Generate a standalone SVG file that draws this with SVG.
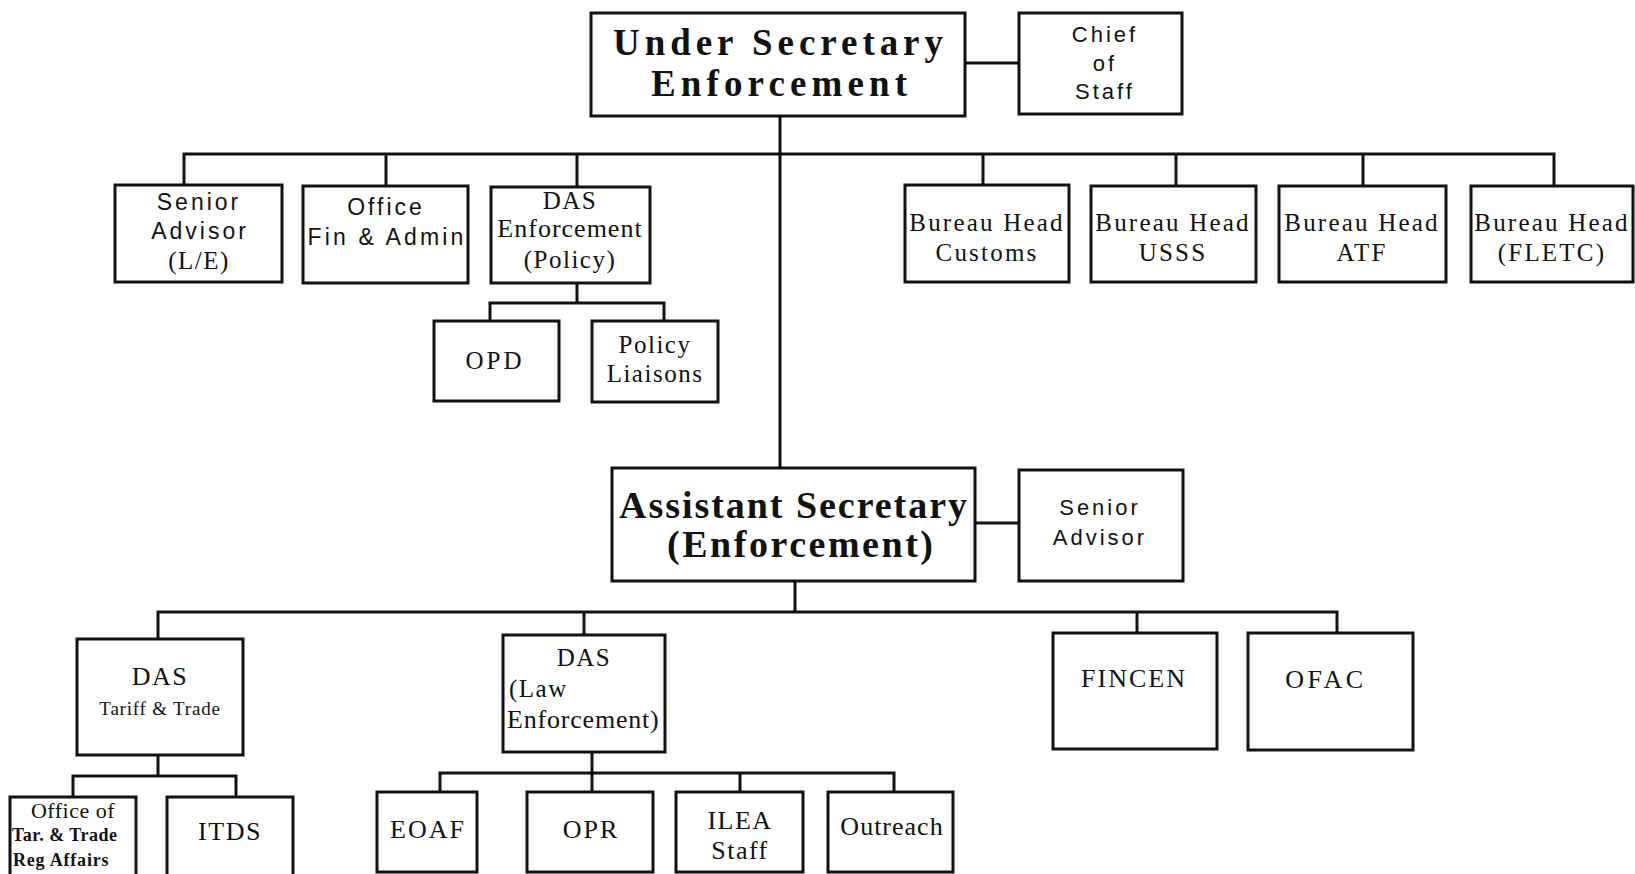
<svg xmlns="http://www.w3.org/2000/svg" width="1635" height="874" viewBox="0 0 1635 874">
<style>
.box{fill:#fff;stroke:#111;stroke-width:3}
.ln{fill:none;stroke:#111;stroke-width:3}
text{fill:#111;dominant-baseline:central;text-anchor:middle}
.sans{font-family:"Liberation Sans",Arial,sans-serif;font-size:22px;letter-spacing:3px}
.serif{font-family:"Liberation Serif","Times New Roman",serif;font-size:25px;letter-spacing:1.5px}
.big{font-family:"Liberation Serif","Times New Roman",serif;font-size:37px;font-weight:bold}
.sm{font-family:"Liberation Serif","Times New Roman",serif;font-size:18px}
</style>
<rect width="1635" height="874" fill="#fff"/>
<g id="connectors">
<path class="ln" d="M965 63 H1019"/>
<path class="ln" d="M780 116 V468"/>
<path class="ln" d="M184 185 V154 H1554 V185 M386 154 V186 M577 154 V187 M983 154 V185 M1176 154 V186 M1363 154 V186"/>
<path class="ln" d="M577 283 V303 M490 321 V303 H664 V321"/>
<path class="ln" d="M975 523 H1019"/>
<path class="ln" d="M795 581 V612"/>
<path class="ln" d="M158 639 V612 H1337 V633 M584 612 V635 M1137 612 V633"/>
<path class="ln" d="M158 755 V776 M73 797 V776 H236 V797"/>
<path class="ln" d="M592 752 V792 M440 792 V773 H894 V792 M740 773 V792"/>
</g>
<g id="under-secretary"><rect class="box" x="591" y="13" width="374" height="103"/>
<text class="big" x="778" y="42" textLength="330" lengthAdjust="spacing">Under Secretary</text>
<text class="big" x="779" y="83" textLength="256" lengthAdjust="spacing">Enforcement</text></g>
<g id="chief-of-staff"><rect class="box" x="1019" y="13" width="163" height="101"/>
<text class="sans" x="1105" y="34">Chief</text><text class="sans" x="1105" y="63">of</text><text class="sans" x="1105" y="91">Staff</text></g>
<g id="senior-advisor-le"><rect class="box" x="115" y="185" width="167" height="97"/>
<text class="sans" x="199" y="202" style="font-size:23px">Senior</text><text class="sans" x="200" y="231" style="font-size:23px">Advisor</text><text class="serif" x="199" y="260">(L/E)</text></g>
<g id="office-fin-admin"><rect class="box" x="303" y="186" width="165" height="97"/>
<text class="sans" x="386" y="207" style="font-size:23px">Office</text><text class="sans" x="387" y="237" style="font-size:23px;letter-spacing:3.2px">Fin &amp; Admin</text></g>
<g id="das-enforcement-policy"><rect class="box" x="491" y="187" width="159" height="96"/>
<text class="serif" x="570" y="200">DAS</text><text class="serif" x="570" y="228" style="font-size:26px;letter-spacing:1px">Enforcement</text><text class="serif" x="570" y="259">(Policy)</text></g>
<g id="opd"><rect class="box" x="434" y="321" width="125" height="80"/>
<text class="serif" x="495" y="360" style="letter-spacing:3px">OPD</text></g>
<g id="policy-liaisons"><rect class="box" x="592" y="321" width="126" height="81"/>
<text class="serif" x="655" y="344">Policy</text><text class="serif" x="655" y="373">Liaisons</text></g>
<g id="bureau-customs"><rect class="box" x="905" y="185" width="164" height="97"/>
<text class="serif" x="987" y="222" style="letter-spacing:2.2px">Bureau Head</text><text class="serif" x="987" y="252" style="letter-spacing:2.2px">Customs</text></g>
<g id="bureau-usss"><rect class="box" x="1091" y="186" width="165" height="96"/>
<text class="serif" x="1173" y="222" style="letter-spacing:2.2px">Bureau Head</text><text class="serif" x="1173" y="252" style="letter-spacing:2.2px">USSS</text></g>
<g id="bureau-atf"><rect class="box" x="1279" y="186" width="167" height="96"/>
<text class="serif" x="1362" y="222" style="letter-spacing:2.2px">Bureau Head</text><text class="serif" x="1362" y="252" style="letter-spacing:2.2px">ATF</text></g>
<g id="bureau-fletc"><rect class="box" x="1471" y="186" width="162" height="96"/>
<text class="serif" x="1552" y="222" style="letter-spacing:2.2px">Bureau Head</text><text class="serif" x="1552" y="252" style="letter-spacing:2.2px">(FLETC)</text></g>
<g id="assistant-secretary"><rect class="box" x="612" y="468" width="363" height="113"/>
<text class="big" x="793" y="505" style="font-size:38px" textLength="348" lengthAdjust="spacing">Assistant Secretary</text>
<text class="big" x="800" y="544" style="font-size:38px" textLength="266" lengthAdjust="spacing">(Enforcement)</text></g>
<g id="senior-advisor"><rect class="box" x="1019" y="470" width="164" height="111"/>
<text class="sans" x="1100" y="507">Senior</text><text class="sans" x="1100" y="537">Advisor</text></g>
<g id="das-tariff-trade"><rect class="box" x="77" y="639" width="166" height="116"/>
<text class="serif" x="160" y="676" style="font-size:26px">DAS</text><text class="sm" x="160" y="708" style="font-size:19px;letter-spacing:0.8px">Tariff &amp; Trade</text></g>
<g id="das-law-enforcement"><rect class="box" x="503" y="635" width="162" height="117"/>
<text class="serif" x="584" y="657">DAS</text>
<text class="serif" x="509" y="688" style="text-anchor:start">(Law</text>
<text class="serif" x="507" y="719" style="text-anchor:start;font-size:26px;letter-spacing:0.8px">Enforcement)</text></g>
<g id="fincen"><rect class="box" x="1053" y="633" width="164" height="116"/>
<text class="serif" x="1134" y="678" style="font-size:26px;letter-spacing:2px">FINCEN</text></g>
<g id="ofac"><rect class="box" x="1248" y="633" width="165" height="117"/>
<text class="serif" x="1326" y="679" style="font-size:26px;letter-spacing:3.5px">OFAC</text></g>
<g id="office-tar-trade"><rect class="box" x="10" y="797" width="126" height="80"/>
<text class="sm" x="73" y="810" style="font-size:22px;letter-spacing:0.5px">Office of</text>
<text class="sm" x="12" y="835" style="text-anchor:start;font-weight:bold;font-size:18px;letter-spacing:0.5px">Tar. &amp; Trade</text>
<text class="sm" x="13" y="860" style="text-anchor:start;font-weight:bold;font-size:18px;letter-spacing:0.8px">Reg Affairs</text></g>
<g id="itds"><rect class="box" x="167" y="797" width="126" height="80"/>
<text class="serif" x="230" y="831" style="font-size:26px">ITDS</text></g>
<g id="eoaf"><rect class="box" x="377" y="792" width="100" height="80"/>
<text class="serif" x="428" y="829" style="font-size:26px;letter-spacing:2px">EOAF</text></g>
<g id="opr"><rect class="box" x="527" y="792" width="126" height="80"/>
<text class="serif" x="591" y="829" style="font-size:26px;letter-spacing:2px">OPR</text></g>
<g id="ilea-staff"><rect class="box" x="676" y="792" width="127" height="80"/>
<text class="serif" x="740" y="820" style="font-size:26px">ILEA</text><text class="serif" x="740" y="850" style="font-size:26px">Staff</text></g>
<g id="outreach"><rect class="box" x="828" y="792" width="125" height="80"/>
<text class="serif" x="892" y="826" style="font-size:26px;letter-spacing:1px">Outreach</text></g>
</svg>
